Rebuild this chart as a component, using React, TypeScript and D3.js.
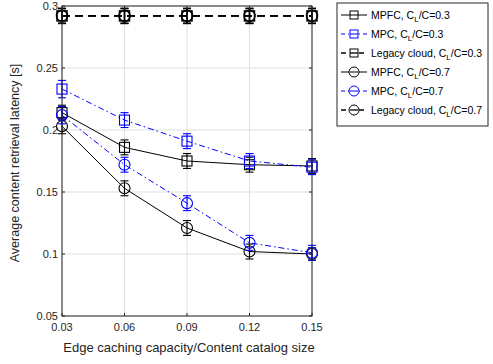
import React from "react";
import * as d3 from "d3";

const capacities = [0.03, 0.06, 0.09, 0.12, 0.15];
const mpfc03 = [0.214, 0.186, 0.175, 0.172, 0.171];
const mpc03 = [0.233, 0.208, 0.191, 0.175, 0.170];
const legacy03 = [0.292, 0.292, 0.292, 0.292, 0.292];
const mpfc07 = [0.203, 0.153, 0.121, 0.102, 0.100];
const mpc07 = [0.212, 0.172, 0.141, 0.109, 0.101];
const legacy07 = [0.292, 0.292, 0.292, 0.292, 0.292];
const errMpfc03 = [0.006, 0.006, 0.006, 0.006, 0.006];
const errMpc03 = [0.007, 0.006, 0.006, 0.006, 0.006];
const errLegacy = [0.006, 0.006, 0.006, 0.006, 0.006];
const errMpfc07 = [0.006, 0.006, 0.006, 0.006, 0.005];
const errMpc07 = [0.007, 0.006, 0.006, 0.006, 0.006];
const xTicks = [0.03, 0.06, 0.09, 0.12, 0.15];
const yTicks = [0.05, 0.1, 0.15, 0.2, 0.25, 0.3];

type Series = {
  name: string;
  values: number[];
  errors: number[];
  color: string;
  dash: string;
  width: number;
  marker: "square" | "circle";
};

const series: Series[] = [
  { name: "MPFC", values: mpfc03, errors: errMpfc03, color: "#000", dash: "", width: 1, marker: "square" },
  { name: "MPC", values: mpc03, errors: errMpc03, color: "#0000ff", dash: "6,3,1.5,3", width: 1, marker: "square" },
  { name: "Legacy cloud", values: legacy03, errors: errLegacy, color: "#000", dash: "8,5", width: 1.6, marker: "square" },
  { name: "MPFC", values: mpfc07, errors: errMpfc07, color: "#000", dash: "", width: 1, marker: "circle" },
  { name: "MPC", values: mpc07, errors: errMpc07, color: "#0000ff", dash: "6,3,1.5,3", width: 1, marker: "circle" },
  { name: "Legacy cloud", values: legacy07, errors: errLegacy, color: "#000", dash: "8,5", width: 1.6, marker: "circle" },
];
const ratios = ["0.3", "0.3", "0.3", "0.7", "0.7", "0.7"];

const left = 62;
const right = 312;
const top = 6;
const bottom = 316;
const font = "'Liberation Sans', Arial, Helvetica, sans-serif";

function Marker({ kind, x, y, color, w }: { kind: string; x: number; y: number; color: string; w: number }) {
  if (kind === "square") {
    return <rect x={x - 5} y={y - 5} width={10} height={10} fill="none" stroke={color} strokeWidth={w} />;
  }
  return <circle cx={x} cy={y} r={5.5} fill="none" stroke={color} strokeWidth={w} />;
}

export default function App() {
  const x = d3.scaleLinear().domain([0.03, 0.15]).range([left, right]);
  const y = d3.scaleLinear().domain([0.05, 0.3]).range([bottom, top]);
  const line = d3
    .line<number>()
    .x((_, i) => x(capacities[i]))
    .y((d) => y(d));

  const legendX = 337;
  const legendY = 3;
  const rowH = 19;

  return (
    <svg width={493} height={364} style={{ position: "absolute", left: 0, top: 0 }} fontFamily={font}>
      <rect x={0} y={0} width={493} height={364} fill="#fff" />
      {/* grid */}
      {xTicks.map((t) => (
        <line key={"gx" + t} x1={x(t)} x2={x(t)} y1={top} y2={bottom} stroke="#dfdfdf" strokeWidth={1} />
      ))}
      {yTicks.map((t) => (
        <line key={"gy" + t} x1={left} x2={right} y1={y(t)} y2={y(t)} stroke="#dfdfdf" strokeWidth={1} />
      ))}
      {/* series */}
      {series.map((s, si) => (
        <g key={si}>
          <path d={line(s.values) || ""} fill="none" stroke={s.color} strokeWidth={s.width} strokeDasharray={s.dash} />
          {s.values.map((v, i) => {
            const cx = x(capacities[i]);
            const y1 = y(v - s.errors[i]);
            const y2 = y(v + s.errors[i]);
            const w = s.width > 1 ? 1.5 : 1.1;
            return (
              <g key={i}>
                <line x1={cx} x2={cx} y1={y1} y2={y2} stroke={s.color} strokeWidth={w} />
                <line x1={cx - 4} x2={cx + 4} y1={y1} y2={y1} stroke={s.color} strokeWidth={w} />
                <line x1={cx - 4} x2={cx + 4} y1={y2} y2={y2} stroke={s.color} strokeWidth={w} />
                <Marker kind={s.marker} x={cx} y={y(v)} color={s.color} w={w} />
              </g>
            );
          })}
        </g>
      ))}
      {/* axes box */}
      <rect x={left} y={top} width={right - left} height={bottom - top} fill="none" stroke="#262626" strokeWidth={1} />
      {xTicks.map((t) => (
        <g key={"tx" + t}>
          <line x1={x(t)} x2={x(t)} y1={bottom} y2={bottom - 3} stroke="#262626" />
          <line x1={x(t)} x2={x(t)} y1={top} y2={top + 3} stroke="#262626" />
          <text x={x(t)} y={bottom + 15} textAnchor="middle" fontSize={11} fill="#262626">
            {d3.format(".2f")(t)}
          </text>
        </g>
      ))}
      {yTicks.map((t) => (
        <g key={"ty" + t}>
          <line x1={left} x2={left + 3} y1={y(t)} y2={y(t)} stroke="#262626" />
          <line x1={right} x2={right - 3} y1={y(t)} y2={y(t)} stroke="#262626" />
          <text x={left - 4} y={y(t) + 4} textAnchor="end" fontSize={11} fill="#262626">
            {String(t)}
          </text>
        </g>
      ))}
      <text x={(left + right) / 2 + 2} y={352} textAnchor="middle" fontSize={13} fill="#262626">
        Edge caching capacity/Content catalog size
      </text>
      <text
        transform={`translate(19,${(top + bottom) / 2 + 2}) rotate(-90)`}
        textAnchor="middle"
        fontSize={12.5}
        fill="#262626"
      >
        Average content retrieval latency [s]
      </text>
      {/* legend */}
      <rect x={legendX} y={legendY} width={151} height={123} fill="#fff" stroke="#262626" strokeWidth={1} />
      {series.map((s, i) => {
        const ly = legendY + 12 + i * rowH;
        const w = s.width > 1 ? 1.3 : 1;
        return (
          <g key={"lg" + i}>
            <line
              x1={legendX + 4}
              x2={legendX + 30}
              y1={ly}
              y2={ly}
              stroke={s.color}
              strokeWidth={w}
              strokeDasharray={s.dash ? (s.width > 1 ? "5,4" : "4,3,1,3") : ""}
            />
            {s.marker === "square" ? (
              <rect x={legendX + 17 - 4} y={ly - 4} width={8} height={8} fill="#fff" stroke={s.color} strokeWidth={1} />
            ) : (
              <circle cx={legendX + 17} cy={ly} r={5} fill="#fff" stroke={s.color} strokeWidth={1} />
            )}
            <line x1={legendX + 13} x2={legendX + 21} y1={ly} y2={ly} stroke={s.color} strokeWidth={w} />
            <text x={legendX + 34} y={ly + 4} fontSize={10.5} fill="#000">
              {s.name}, C<tspan fontSize={8} dy={3}>L</tspan>
              <tspan dy={-3}>/C={ratios[i]}</tspan>
            </text>
          </g>
        );
      })}
    </svg>
  );
}
